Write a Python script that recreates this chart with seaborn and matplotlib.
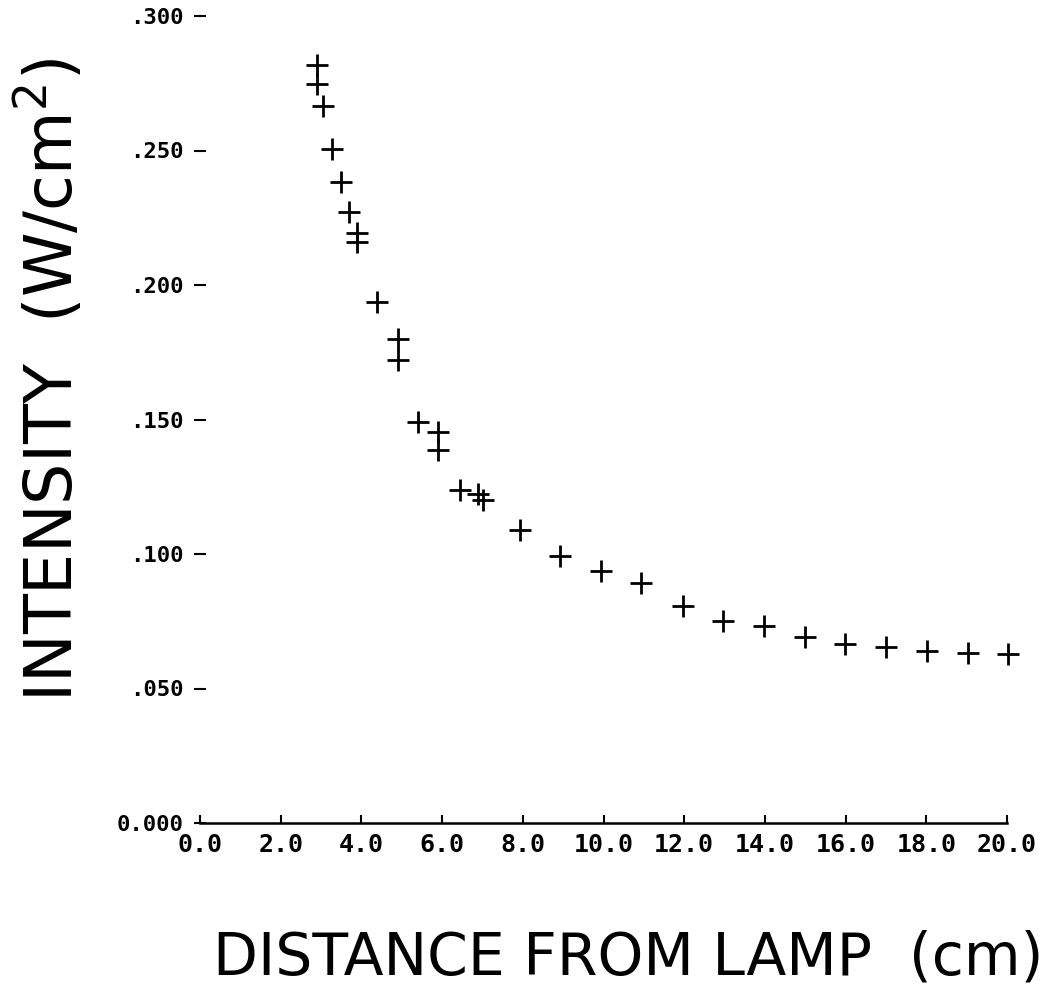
import matplotlib
matplotlib.use("Agg")
import matplotlib.pyplot as plt
import seaborn as sns
import pandas as pd

distance = [2.90, 2.90, 3.05, 3.28, 3.50, 3.70, 3.90, 3.90, 4.39, 4.91,
            4.91, 5.41, 5.91, 5.91, 6.45, 6.90, 7.02, 7.94, 8.93, 9.93,
            10.94, 11.96, 12.95, 13.97, 14.99, 15.98, 17.00, 18.01, 19.03, 20.02]
intensity = [0.2818, 0.2747, 0.2665, 0.2506, 0.2383, 0.2271, 0.2193, 0.2160, 0.1937, 0.1800,
             0.1720, 0.1490, 0.1454, 0.1387, 0.1238, 0.1222, 0.1200, 0.1089, 0.0991, 0.0935,
             0.0892, 0.0807, 0.0751, 0.0732, 0.0691, 0.0665, 0.0654, 0.0639, 0.0632, 0.0628]

x_ticks = [0, 2, 4, 6, 8, 10, 12, 14, 16, 18, 20]
x_tick_labels = ["0.0", "2.0", "4.0", "6.0", "8.0", "10.0", "12.0", "14.0", "16.0", "18.0", "20.0"]
y_ticks = [0.0, 0.05, 0.10, 0.15, 0.20, 0.25, 0.30]
y_tick_labels = ["0.000", ".050", ".100", ".150", ".200", ".250", ".300"]

df = pd.DataFrame({"distance": distance, "intensity": intensity})

sns.set_style("ticks")
plt.rcParams['font.family'] = ['DejaVu Sans']

W, H = 1053, 994
fig = plt.figure(figsize=(W / 100, H / 100), dpi=100)
ax = fig.add_axes([200 / W, (H - 823) / H, (1007 - 200) / W, (823 - 16) / H])

sns.scatterplot(data=df, x="distance", y="intensity", marker="+", s=240,
                color="black", linewidth=2.0, ax=ax, legend=False, clip_on=False)

ax.set_xlim(0, 20)
ax.set_ylim(0, 0.30)
ax.set_xticks(x_ticks)
ax.set_xticklabels(x_tick_labels, family="DejaVu Sans Mono", fontsize=18, fontweight="bold")
ax.set_yticks(y_ticks)
ax.set_yticklabels(y_tick_labels, family="DejaVu Sans Mono", fontsize=16, fontweight="bold")

for side in ["top", "right", "left"]:
    ax.spines[side].set_visible(False)
ax.spines["bottom"].set_linewidth(1.8)
ax.spines["bottom"].set_color("black")

ax.tick_params(axis="x", direction="in", length=6, width=1.5, pad=7, colors="black")
ax.tick_params(axis="y", direction="inout", length=8, width=1.5, pad=8, colors="black")

ax.set_xlabel("")
ax.set_ylabel("")

fig.text(628 / W, 1 - 958 / H, "DISTANCE FROM LAMP  (cm)", fontsize=42,
         ha="center", va="center", color="black")
fig.text(50 / W, 1 - 380 / H, "INTENSITY  (W/cm$^2$)", fontsize=47,
         rotation=90, ha="center", va="center", color="black")

fig.savefig("out.png", dpi=100, facecolor="white")
